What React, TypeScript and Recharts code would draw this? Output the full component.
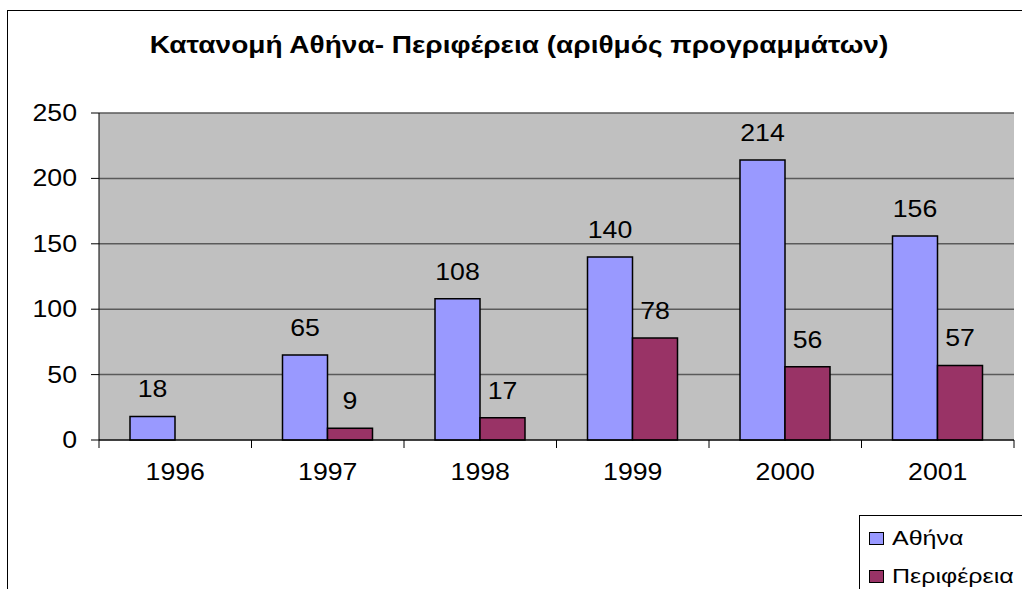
import { BarChart, Bar, XAxis, YAxis, CartesianGrid, LabelList, Legend } from "recharts";

const years = ["1996", "1997", "1998", "1999", "2000", "2001"];
const athina = [18, 65, 108, 140, 214, 156];
const perifereia = [null, 9, 17, 78, 56, 57];
const yTicks = [0, 50, 100, 150, 200, 250];

const TITLE = "Κατανομή Αθήνα- Περιφέρεια (αριθμός προγραμμάτων)";
const FONT = "'Liberation Sans', Arial, sans-serif";
const BLUE = "#9999FF";
const MAROON = "#993366";
// the original text is Arial drawn a bit wider than normal
const STRETCH = 1.16;

const data = years.map((y, i) => ({ year: y, athina: athina[i], perifereia: perifereia[i] }));

function WideText({ x, y, anchor = "middle", size = 23, children }: any) {
  return (
    <text transform={`translate(${x} ${y}) scale(${STRETCH} 1)`} x={0} y={0} textAnchor={anchor} fontSize={size} fill="#000" fontFamily={FONT}>
      {children}
    </text>
  );
}

// x ticks sit on the category boundaries, labels in the middle
function YearTick(props: any) {
  const { x, y, payload, index } = props;
  const half = payload?.offset ?? 76.25;
  return (
    <g>
      <line x1={x - half} x2={x - half} y1={y} y2={y + 8} stroke="#000" />
      {index === years.length - 1 && <line x1={x + half} x2={x + half} y1={y} y2={y + 8} stroke="#000" />}
      <WideText x={x} y={y + 40}>{payload.value}</WideText>
    </g>
  );
}

function ValueTick(props: any) {
  const { x, y, payload } = props;
  return <WideText x={x} y={y + 8} anchor="end">{payload.value}</WideText>;
}

function BarLabel(props: any) {
  const { x, y, width, value } = props;
  if (value == null) return null;
  return <WideText x={x + width / 2} y={y - 19}>{value}</WideText>;
}

function LegendBox() {
  const items = [
    { name: "Αθήνα", color: BLUE },
    { name: "Περιφέρεια", color: MAROON },
  ];
  return (
    <div style={{ position: "absolute", left: 0, top: 0, width: 200, height: 100, border: "1px solid #000", background: "#fff", fontFamily: FONT }}>
      {items.map((it, i) => (
        <div key={it.name} style={{ position: "absolute", left: 9, top: 14 + i * 38, display: "flex", alignItems: "center", whiteSpace: "nowrap" }}>
          <span style={{ width: 13, height: 11, background: it.color, border: "1px solid #000", display: "inline-block" }} />
          <span style={{ marginLeft: 8, fontSize: 20, color: "#000", lineHeight: "16px", display: "inline-block", transform: "scaleX(1.25)", transformOrigin: "left center" }}>{it.name}</span>
        </div>
      ))}
    </div>
  );
}

export default function App() {
  return (
    <div style={{ position: "absolute", left: 0, top: 0, width: 1022, height: 589, overflow: "hidden", background: "#fff" }}>
      <div style={{ position: "absolute", left: 7, top: 10, width: 1200, height: 700, border: "1px solid #000" }} />
      <div style={{ position: "absolute", left: 0, top: 0 }}>
        <BarChart
          width={1022}
          height={589}
          data={data}
          margin={{ top: 113, right: 8, bottom: 119, left: 39 }}
          barGap={0}
        >
          <text transform="translate(519 53) scale(1.22 1)" x={0} y={0} textAnchor="middle" fontSize={23} fontWeight="bold" fontFamily={FONT} fill="#000">
            {TITLE}
          </text>
          <CartesianGrid vertical={false} stroke="#5a5a5a" strokeWidth={1.5} fill="#C0C0C0" fillOpacity={1} />
          <XAxis
            dataKey="year"
            height={30}
            axisLine={{ stroke: "#000" }}
            tickLine={false}
            tickSize={0}
            tickMargin={0}
            tick={<YearTick />}
            interval={0}
          />
          <YAxis
            width={60}
            domain={[0, 250]}
            ticks={yTicks}
            axisLine={{ stroke: "#000" }}
            tickLine={{ stroke: "#000" }}
            tickSize={8}
            tickMargin={14}
            tick={<ValueTick />}
          />
          <YAxis
            yAxisId="r"
            orientation="right"
            width={0}
            domain={[0, 250]}
            tick={false}
            tickLine={false}
            axisLine={{ stroke: "#808080" }}
          />
          <Legend
            content={<LegendBox />}
            wrapperStyle={{ left: 859, top: 515, width: 0, height: 0, overflow: "visible" }}
          />
          <Bar dataKey="athina" name="Αθήνα" fill={BLUE} stroke="#000" strokeWidth={1.5} barSize={45} isAnimationActive={false}>
            <LabelList dataKey="athina" content={<BarLabel />} />
          </Bar>
          <Bar dataKey="perifereia" name="Περιφέρεια" fill={MAROON} stroke="#000" strokeWidth={1.5} barSize={45} isAnimationActive={false}>
            <LabelList dataKey="perifereia" content={<BarLabel />} />
          </Bar>
        </BarChart>
      </div>
    </div>
  );
}
